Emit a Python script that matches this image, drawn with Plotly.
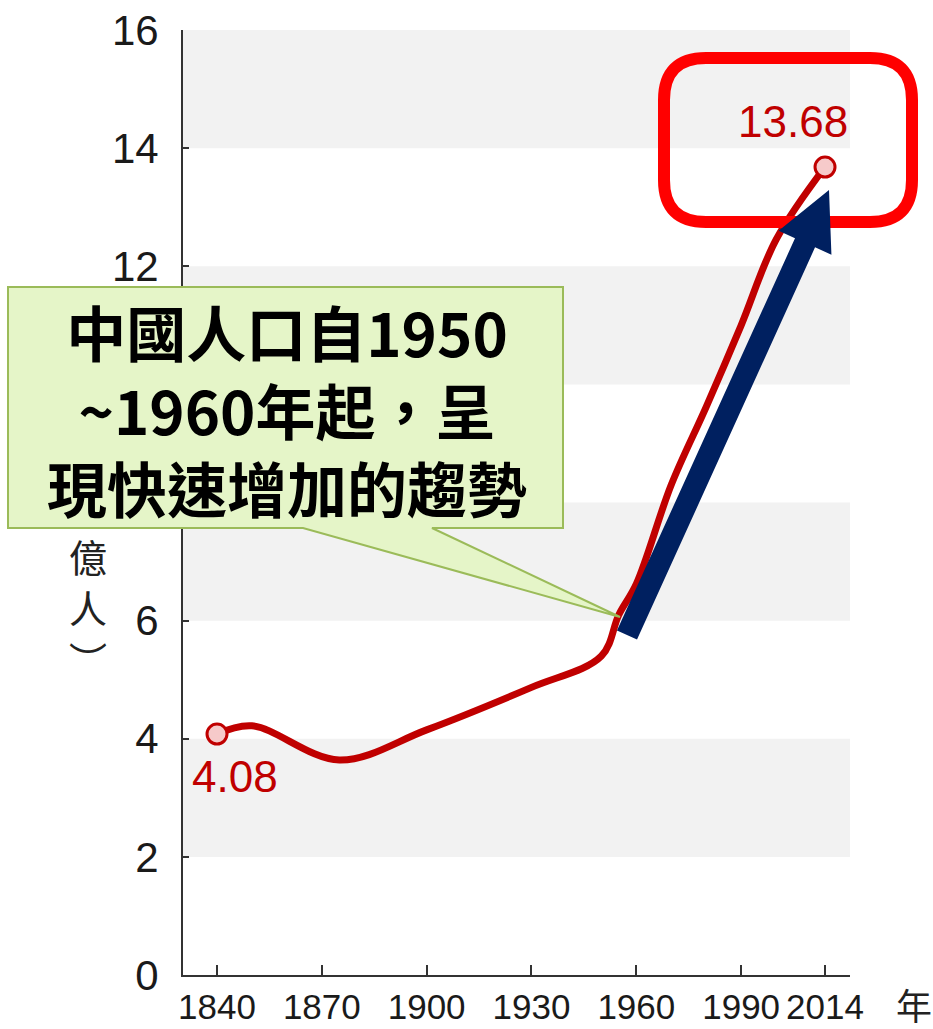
import numpy as np
import plotly.graph_objects as go

# ---- data ----
years = [1840, 1850, 1875, 1900, 1930, 1950, 1955, 1960, 1970, 1980, 1990, 2000, 2014]
population = [4.08, 4.22, 3.64, 4.15, 4.87, 5.40, 6.10, 6.62, 8.30, 9.62, 11.00, 12.45, 13.68]
x_ticks = [1840, 1870, 1900, 1930, 1960, 1990, 2014]
y_ticks = [0, 2, 4, 6, 8, 10, 12, 14, 16]
y_ticks_hidden = [8, 10]  # covered by the callout in the reference
bands = [(2, 4), (6, 8), (10, 12), (14, 16)]
callout_lines = ["中國人口自1950", "~1960年起，呈", "現快速增加的趨勢"]
y_title_chars = ["億", "人", "︶"]
x_unit = "年"

# ---- layout geometry (pixels) ----
W, H = 933, 1029
L, R, T, B = 183, 850, 30, 975
x_range = [1830.27, 2021.15]


def px(x):
    return (x - L) / (R - L)


def py(y):
    return (B - y) / (B - T)


def path_from(points, close=True):
    s = "M " + " L ".join(f"{px(x):.5f},{py(y):.5f}" for x, y in points)
    return s + (" Z" if close else "")


RED = "#c00000"

fig = go.Figure()
fig.add_trace(go.Scatter(
    x=years, y=population, mode="lines",
    line=dict(color=RED, width=7, shape="spline", smoothing=1.0),
    hoverinfo="skip", showlegend=False,
))
fig.add_trace(go.Scatter(
    x=[years[0], years[-1]], y=[population[0], population[-1]], mode="markers",
    marker=dict(size=20, color="#f6caca", line=dict(color=RED, width=3)),
    hoverinfo="skip", showlegend=False,
))

shapes = []
for lo, hi in bands:
    shapes.append(dict(type="rect", xref="paper", yref="y", x0=0, x1=1, y0=lo, y1=hi,
                       fillcolor="#f2f2f2", line=dict(width=0), layer="below"))

# callout (box + pointer)
callout_pts = [(8, 287), (563, 287), (563, 528), (432, 528), (620, 617), (303, 528), (8, 528)]
shapes.append(dict(type="path", xref="paper", yref="paper", path=path_from(callout_pts),
                   fillcolor="#e5f5c8", line=dict(color="#9bbb59", width=2), layer="above"))

# red rounded rectangle
x0, x1, y0, y1, r = 664, 912, 58, 222, 42
rr = (f"M {px(x0 + r):.5f},{py(y0):.5f} L {px(x1 - r):.5f},{py(y0):.5f} "
      f"Q {px(x1):.5f},{py(y0):.5f} {px(x1):.5f},{py(y0 + r):.5f} "
      f"L {px(x1):.5f},{py(y1 - r):.5f} "
      f"Q {px(x1):.5f},{py(y1):.5f} {px(x1 - r):.5f},{py(y1):.5f} "
      f"L {px(x0 + r):.5f},{py(y1):.5f} "
      f"Q {px(x0):.5f},{py(y1):.5f} {px(x0):.5f},{py(y1 - r):.5f} "
      f"L {px(x0):.5f},{py(y0 + r):.5f} "
      f"Q {px(x0):.5f},{py(y0):.5f} {px(x0 + r):.5f},{py(y0):.5f} Z")
shapes.append(dict(type="path", xref="paper", yref="paper", path=rr,
                   line=dict(color="#ff0000", width=12), layer="above"))

# navy arrow
tail = np.array([627.0, 635.0])
tip = np.array([829.0, 190.0])
u = (tip - tail) / np.linalg.norm(tip - tail)
n = np.array([-u[1], u[0]])
hw, hh, hl = 11, 29, 58
base = tip - hl * u
arrow_pts = [tail + hw * n, base + hw * n, base + hh * n, tip,
             base - hh * n, base - hw * n, tail - hw * n]
shapes.append(dict(type="path", xref="paper", yref="paper",
                   path=path_from([tuple(p) for p in arrow_pts]),
                   fillcolor="#002060", line=dict(width=0), layer="above"))

annotations = []
# value labels
annotations.append(dict(x=years[0], y=population[0], xref="x", yref="y",
                        text=f"{population[0]:.2f}", showarrow=False,
                        xshift=18, yshift=-42,
                        font=dict(family="Liberation Sans, Arial", size=44, color=RED)))
annotations.append(dict(x=years[-1], y=population[-1], xref="x", yref="y",
                        text=f"{population[-1]:.2f}", showarrow=False,
                        xshift=-32, yshift=46,
                        font=dict(family="Liberation Sans, Arial", size=44, color=RED)))
# callout text
annotations.append(dict(x=px(287), y=py(408), xref="paper", yref="paper",
                        text="<br>".join(f"<b>{s}</b>" for s in callout_lines),
                        showarrow=False, xanchor="center", yanchor="middle",
                        font=dict(family="Noto Sans CJK TC", size=60, color="#000000")))
# y title (vertical)
for ch, yc in zip(y_title_chars, [555, 606, 659]):
    annotations.append(dict(x=px(88), y=py(yc), xref="paper", yref="paper",
                            text=ch, showarrow=False, xanchor="center", yanchor="middle",
                            font=dict(family="Noto Sans CJK TC", size=38, color="#222222")))
# x unit
annotations.append(dict(x=px(914), y=py(1004), xref="paper", yref="paper",
                        text=x_unit, showarrow=False, xanchor="center", yanchor="middle",
                        font=dict(family="Noto Sans CJK TC", size=36, color="#222222")))

fig.update_layout(
    width=W, height=H,
    margin=dict(l=L, r=W - R, t=T, b=H - B, pad=0, autoexpand=False),
    paper_bgcolor="white", plot_bgcolor="white",
    shapes=shapes, annotations=annotations, showlegend=False,
    xaxis=dict(range=x_range, tickvals=x_ticks, ticktext=[str(v) for v in x_ticks],
               tickangle=0, automargin=False,
               showgrid=False, zeroline=False, showline=True, linecolor="#333333", linewidth=2,
               ticks="inside", ticklen=10, tickwidth=1.5, tickcolor="#333333",
               tickfont=dict(family="Liberation Sans, Arial", size=35, color="#1a1a1a"),
               ticklabelstandoff=0, fixedrange=True),
    yaxis=dict(range=[0, 16], tickvals=y_ticks,
               ticktext=["" if v in y_ticks_hidden else str(v) for v in y_ticks],
               automargin=False, showgrid=False, zeroline=False,
               showline=True, linecolor="#333333", linewidth=2,
               ticks="inside", ticklen=6, tickwidth=1.5, tickcolor="#333333",
               tickfont=dict(family="Liberation Sans, Arial", size=42, color="#1a1a1a"),
               ticklabelstandoff=14, fixedrange=True),
)

fig.write_html("out.html", config={"displayModeBar": False},
               post_script="document.body.style.margin='0';document.body.style.overflow='hidden';")
